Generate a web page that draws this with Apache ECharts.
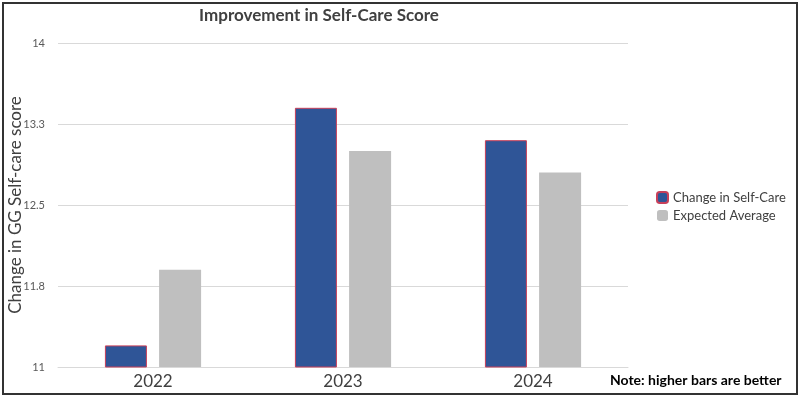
<!DOCTYPE html>
<html>
<head>
<meta charset="utf-8">
<script src="https://cdn.jsdelivr.net/npm/echarts@6/dist/echarts.min.js"></script>
<style>
  html, body { margin: 0; padding: 0; background: #fff; }
  #main { width: 801px; height: 398px; }
</style>
</head>
<body>
<div id="main"></div>
<script>
// chart data
const years = ['2022', '2023', '2024']
const selfCareChange = [11.2, 13.4, 13.1]
const expectedAverage = [11.9, 13.0, 12.8]
const yTickLabels = ['11', '11.8', '12.5', '13.3', '14']

const myChart = echarts.init(document.getElementById('main'))
const font = 'Lato, "Open Sans", sans-serif'

myChart.setOption({
  animation: false,
  textStyle: { fontFamily: font },
  title: {
    text: 'Improvement in Self-Care Score',
    left: 314,
    textAlign: 'center',
    top: 2,
    textStyle: { fontSize: 17, fontWeight: 'bold', color: '#404040', fontFamily: font }
  },
  legend: {
    orient: 'vertical',
    left: 651,
    top: 186,
    itemWidth: 11,
    itemHeight: 11,
    itemGap: 5,
    textStyle: { fontSize: 13, color: '#404040', fontFamily: font },
    data: ['Change in Self-Care', 'Expected Average']
  },
  grid: { left: 58, right: 173, top: 43, bottom: 31, containLabel: false, outerBoundsMode: 'none' },
  xAxis: {
    type: 'category',
    data: years,
    axisTick: { show: false },
    axisLine: { lineStyle: { color: '#d9d9d9', width: 1 } },
    axisLabel: { fontSize: 17, color: '#404040', margin: 6 }
  },
  yAxis: {
    type: 'value',
    min: 11,
    max: 14,
    interval: 0.75,
    name: 'Change in GG Self-care score',
    nameLocation: 'middle',
    nameGap: 34,
    nameMoveOverlap: false,
    nameRotate: 90,
    nameTextStyle: { fontSize: 17, color: '#404040' },
    axisLine: { show: false },
    axisTick: { show: false },
    splitLine: { lineStyle: { color: '#d9d9d9' } },
    axisLabel: {
      fontSize: 11,
      color: '#595959',
      margin: 13,
      formatter: (v, i) => yTickLabels[i]
    }
  },
  series: [
    {
      name: 'Change in Self-Care',
      type: 'bar',
      data: selfCareChange,
      barWidth: 42,
      barGap: '29%',
      itemStyle: { color: '#2f5597', borderColor: '#c8405a', borderWidth: 1 }
    },
    {
      name: 'Expected Average',
      type: 'bar',
      data: expectedAverage,
      barWidth: 42,
      itemStyle: { color: '#bfbfbf' }
    }
  ],
  graphic: [
    {
      type: 'rect',
      shape: { x: 3, y: 3, width: 794, height: 391 },
      style: { fill: 'none', stroke: '#333', lineWidth: 2 },
      silent: true
    },
    {
      type: 'text',
      left: 610,
      top: 373,
      style: { text: 'Note: higher bars are better', font: 'bold 14px Lato, sans-serif', fill: '#000' }
    }
  ]
})
</script>
</body>
</html>
